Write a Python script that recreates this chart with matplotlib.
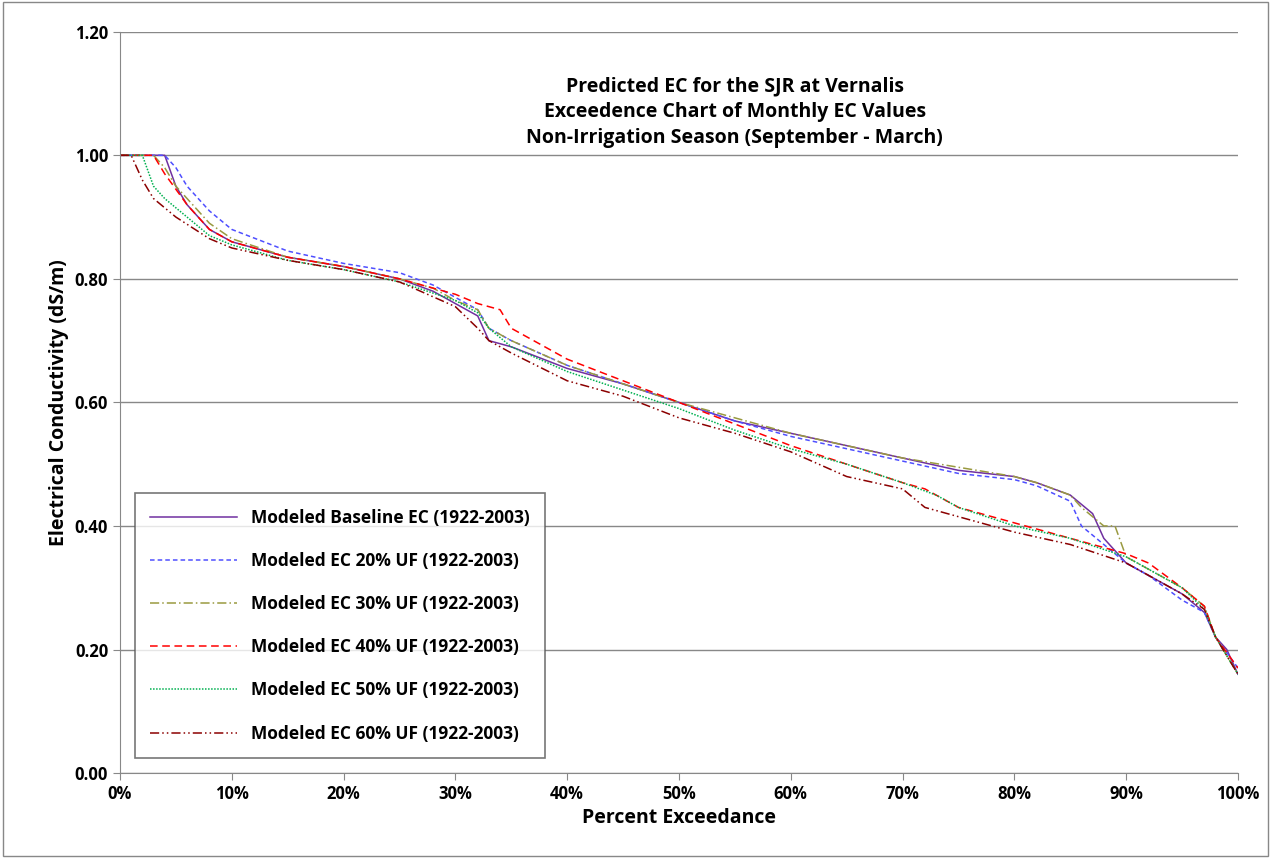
import matplotlib
matplotlib.use('Agg')
import matplotlib.pyplot as plt
from matplotlib.ticker import FuncFormatter, MultipleLocator

plt.rcParams['font.family'] = ['Open Sans', 'DejaVu Sans']
plt.rcParams['font.weight'] = 'bold'

# percent exceedance / EC (dS/m)
base_x = [0, 2, 4, 5, 6, 8, 10, 15, 20, 25, 28, 30, 32, 33, 35, 40, 45, 50, 55, 60, 65, 70, 75, 80, 82, 85, 87, 88, 89, 90, 92, 95, 97, 98, 99, 100]
base_y = [1.0, 1.0, 1.0, 0.95, 0.92, 0.88, 0.86, 0.835, 0.82, 0.80, 0.78, 0.76, 0.74, 0.70, 0.69, 0.655, 0.63, 0.60, 0.57, 0.55, 0.53, 0.51, 0.49, 0.48, 0.47, 0.45, 0.42, 0.38, 0.36, 0.34, 0.32, 0.29, 0.26, 0.22, 0.20, 0.16]
uf20_x = [0, 4, 5, 6, 8, 10, 15, 20, 25, 28, 30, 32, 33, 35, 40, 45, 50, 55, 60, 65, 70, 75, 80, 82, 85, 86, 88, 90, 92, 95, 97, 98, 100]
uf20_y = [1.0, 1.0, 0.98, 0.95, 0.91, 0.88, 0.845, 0.825, 0.81, 0.79, 0.77, 0.75, 0.72, 0.70, 0.66, 0.63, 0.60, 0.57, 0.545, 0.525, 0.505, 0.485, 0.475, 0.465, 0.44, 0.40, 0.37, 0.34, 0.32, 0.28, 0.26, 0.22, 0.17]
uf30_x = [0, 3, 4, 5, 6, 8, 10, 15, 20, 25, 28, 30, 32, 33, 35, 40, 45, 50, 55, 60, 65, 70, 75, 80, 82, 85, 86, 88, 89, 90, 92, 95, 97, 98, 100]
uf30_y = [1.0, 1.0, 0.98, 0.95, 0.93, 0.89, 0.865, 0.835, 0.82, 0.80, 0.785, 0.765, 0.75, 0.72, 0.70, 0.66, 0.63, 0.60, 0.575, 0.55, 0.53, 0.51, 0.495, 0.48, 0.47, 0.45, 0.43, 0.40, 0.40, 0.35, 0.33, 0.30, 0.27, 0.22, 0.16]
uf40_x = [0, 3, 4, 6, 8, 10, 15, 20, 25, 28, 30, 32, 34, 35, 37, 40, 45, 50, 55, 60, 65, 70, 72, 75, 80, 85, 90, 92, 95, 97, 98, 100]
uf40_y = [1.0, 1.0, 0.97, 0.92, 0.88, 0.86, 0.835, 0.82, 0.80, 0.785, 0.775, 0.76, 0.75, 0.72, 0.70, 0.67, 0.635, 0.60, 0.565, 0.53, 0.50, 0.47, 0.46, 0.43, 0.405, 0.38, 0.355, 0.34, 0.30, 0.27, 0.22, 0.17]
uf50_x = [0, 2, 3, 4, 6, 8, 10, 15, 20, 25, 30, 32, 33, 35, 40, 45, 50, 55, 60, 65, 70, 73, 75, 80, 85, 90, 95, 97, 98, 100]
uf50_y = [1.0, 1.0, 0.95, 0.93, 0.90, 0.87, 0.855, 0.83, 0.815, 0.795, 0.765, 0.745, 0.72, 0.69, 0.65, 0.62, 0.59, 0.555, 0.525, 0.50, 0.47, 0.45, 0.43, 0.40, 0.38, 0.35, 0.30, 0.265, 0.22, 0.16]
uf60_x = [0, 1, 2, 3, 5, 8, 10, 15, 20, 25, 30, 32, 33, 35, 40, 45, 50, 55, 60, 65, 70, 72, 75, 80, 85, 90, 95, 97, 98, 100]
uf60_y = [1.0, 1.0, 0.96, 0.93, 0.90, 0.865, 0.85, 0.83, 0.815, 0.795, 0.755, 0.72, 0.70, 0.68, 0.635, 0.61, 0.575, 0.55, 0.52, 0.48, 0.46, 0.43, 0.415, 0.39, 0.37, 0.34, 0.29, 0.265, 0.22, 0.16]

series = [
    ('Modeled Baseline EC (1922-2003)', base_x, base_y, '#7030a0', '-'),
    ('Modeled EC 20% UF (1922-2003)', uf20_x, uf20_y, '#4f4fff', (0, (3, 2))),
    ('Modeled EC 30% UF (1922-2003)', uf30_x, uf30_y, '#9a9a40', (0, (6, 2, 1, 2))),
    ('Modeled EC 40% UF (1922-2003)', uf40_x, uf40_y, '#ff0000', (0, (5, 3))),
    ('Modeled EC 50% UF (1922-2003)', uf50_x, uf50_y, '#00b050', (0, (1, 1))),
    ('Modeled EC 60% UF (1922-2003)', uf60_x, uf60_y, '#8b0000', (0, (6, 2, 1, 2, 1, 2))),
]

fig = plt.figure(figsize=(12.71, 8.58), dpi=100)
fig.patches.append(plt.Rectangle((0.002, 0.002), 0.996, 0.996, transform=fig.transFigure,
                                 fill=False, edgecolor='#888888', lw=1))
ax = fig.add_axes([0.0944, 0.099, 0.8796, 0.864])

for name, xs, ys, c, ls in series:
    ax.plot([x / 100 for x in xs], ys, color=c, linestyle=ls, lw=1.1, label=name)

ax.set_xlim(0, 1)
ax.set_ylim(0, 1.2)
ax.xaxis.set_major_locator(MultipleLocator(0.1))
ax.yaxis.set_major_locator(MultipleLocator(0.2))
ax.xaxis.set_major_formatter(FuncFormatter(lambda v, p: f'{v*100:.0f}%'))
ax.yaxis.set_major_formatter(FuncFormatter(lambda v, p: f'{v:.2f}'))
ax.grid(axis='y', color='#888888', lw=1)
ax.set_axisbelow(True)
for s in ['top', 'right']:
    ax.spines[s].set_visible(False)
for s in ['left', 'bottom']:
    ax.spines[s].set_color('#888888')
ax.tick_params(direction='out', color='#888888', labelsize=12, length=5)
ax.set_xlabel('Percent Exceedance', fontsize=14, fontweight='bold')
ax.set_ylabel('Electrical Conductivity (dS/m)', fontsize=14, fontweight='bold')

ax.text(0.55, 0.94, 'Predicted EC for the SJR at Vernalis\nExceedence Chart of Monthly EC Values\nNon-Irrigation Season (September - March)',
        transform=ax.transAxes, ha='center', va='top', fontsize=14, fontweight='bold', linespacing=1.4)

leg = ax.legend(loc='lower left', bbox_to_anchor=(0.013, 0.02), fontsize=12.5, frameon=True,
                fancybox=False, edgecolor='#555555', labelspacing=1.45, handlelength=5,
                borderpad=0.9, borderaxespad=0)
leg.get_frame().set_linewidth(1.2)

fig.savefig('out.png', dpi=100)
